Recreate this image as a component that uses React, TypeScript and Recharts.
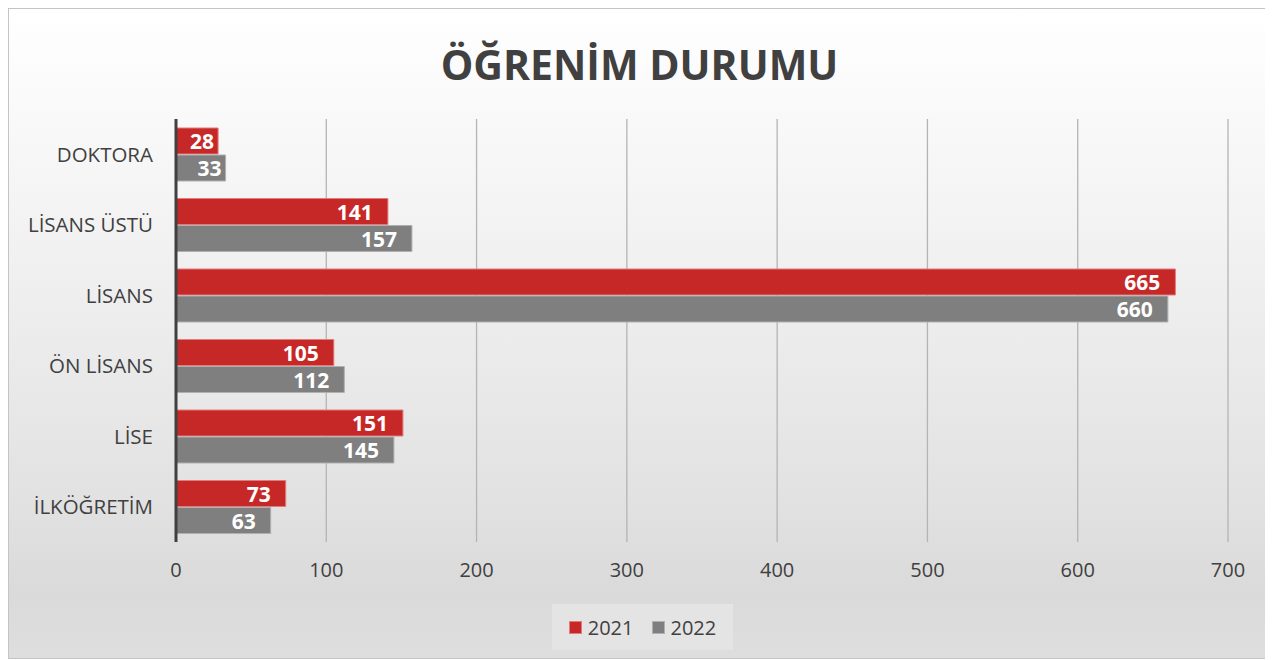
import * as React from 'react';
import { BarChart, Bar, XAxis, YAxis, CartesianGrid, Legend, LabelList } from 'recharts';

const categories = ['DOKTORA', 'LİSANS ÜSTÜ', 'LİSANS', 'ÖN LİSANS', 'LİSE', 'İLKÖĞRETİM'];
const values2021 = [28, 141, 665, 105, 151, 73];
const values2022 = [33, 157, 660, 112, 145, 63];
const xTicks = [0, 100, 200, 300, 400, 500, 600, 700];

const FONT = '"Open Sans", sans-serif';
const TEXT = '#404040';
const RED = '#c62828';
const GREY = '#7f7f7f';

const data = categories.map((name, i) => ({
  name,
  y2021: values2021[i],
  y2022: values2022[i],
}));

// white value label at the inner end of the bar, tighter padding on short bars
const BarValue = (props: any) => {
  const { x, y, width, height, value } = props;
  const pad = width > 70 ? 15 : 4;
  return (
    <text
      x={x + width - pad}
      y={y + height / 2}
      textAnchor="end"
      dominantBaseline="central"
      fill="#ffffff"
      style={{ fontFamily: FONT, fontWeight: 700, fontSize: 21 }}
    >
      {value}
    </text>
  );
};

const LegendBox = () => (
  <div
    style={{
      background: '#e4e4e4',
      height: 46,
      display: 'flex',
      alignItems: 'center',
      justifyContent: 'center',
      gap: 18,
      fontFamily: FONT,
      fontSize: 20,
      color: TEXT,
    }}
  >
    {[
      { label: '2021', color: RED, border: '#e37b7b' },
      { label: '2022', color: GREY, border: '#b0b0b0' },
    ].map((item) => (
      <span key={item.label} style={{ display: 'flex', alignItems: 'center', gap: 6 }}>
        <span
          style={{
            width: 11,
            height: 11,
            background: item.color,
            border: `1px solid ${item.border}`,
            display: 'inline-block',
          }}
        />
        {item.label}
      </span>
    ))}
  </div>
);

export default function App() {
  return (
    <div
      style={{
        position: 'relative',
        width: 1261,
        height: 649,
        border: '1px solid #c4c4c4',
        background: 'linear-gradient(to bottom, #ffffff 0%, #f4f4f4 30%, #e2e2e2 75%, #dadada 90%, #dedede 100%)',
      }}
    >
      <div
        style={{
          position: 'absolute',
          top: 27,
          left: 0,
          width: '100%',
          textAlign: 'center',
          fontFamily: FONT,
          fontWeight: 700,
          fontSize: 41,
          color: TEXT,
        }}
      >
        ÖĞRENİM DURUMU
      </div>
      <BarChart
        width={1261}
        height={649}
        data={data}
        layout="vertical"
        margin={{ top: 110, right: 42, left: 0, bottom: 8 }}
        barCategoryGap={9}
        barGap={1}
        style={{ position: 'absolute', top: 0, left: 0 }}
      >
        <CartesianGrid horizontal={false} stroke="#b4b4b4" strokeWidth={1.3} />
        <XAxis
          type="number"
          domain={[0, 700]}
          ticks={xTicks}
          axisLine={false}
          tickLine={false}
          tickSize={0}
          tickMargin={21}
          height={62}
          tick={{ fill: TEXT, fontSize: 20, fontFamily: FONT }}
        />
        <YAxis
          type="category"
          dataKey="name"
          width={167}
          axisLine={{ stroke: '#404040', strokeWidth: 3 }}
          tickLine={false}
          tickSize={0}
          tickMargin={23}
          tick={{ fill: TEXT, fontSize: 20.5, fontFamily: FONT }}
        />
        <Legend
          verticalAlign="bottom"
          height={46}
          wrapperStyle={{ left: 543, width: 181 }}
          content={() => <LegendBox />}
        />
        <Bar dataKey="y2021" name="2021" fill={RED} stroke="#e37b7b" strokeWidth={1} isAnimationActive={false}>
          <LabelList dataKey="y2021" content={BarValue} />
        </Bar>
        <Bar dataKey="y2022" name="2022" fill={GREY} stroke="#b0b0b0" strokeWidth={1} isAnimationActive={false}>
          <LabelList dataKey="y2022" content={BarValue} />
        </Bar>
      </BarChart>
    </div>
  );
}
